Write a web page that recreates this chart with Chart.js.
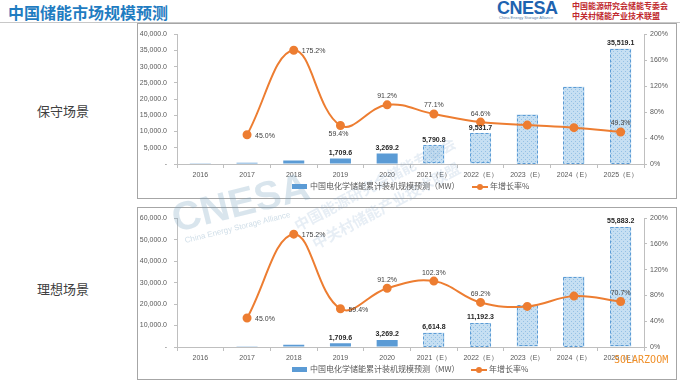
<!DOCTYPE html>
<html>
<head>
<meta charset="utf-8">
<script src="https://cdn.jsdelivr.net/npm/chart.js@4.4.0/dist/chart.umd.min.js"></script>
<style>
  body { margin: 0; width: 680px; height: 382px; background: #fff; position: relative; overflow: hidden;
         font-family: "Noto Sans CJK SC", "Noto Sans", sans-serif; }
  .abs { position: absolute; white-space: nowrap; }
  .box { position: absolute; border: 1px solid #a6a6a6; box-sizing: border-box; }
  canvas { position: absolute; }
  .scene { font-size: 13px; color: #404040; }
  .lg { font-size: 8px; color: #595959; line-height: 10px; }
  .lgbar { position: absolute; width: 15px; height: 5px; background: #5b9bd5; }
  .lgline { position: absolute; width: 16px; height: 2px; background: #ed7d31; }
  .lgdot { position: absolute; width: 6px; height: 6px; border-radius: 50%; background: #ed7d31; }
  .wm { position: absolute; white-space: nowrap; pointer-events: none; transform-origin: left bottom; }
</style>
</head>
<body>

<div class="abs" style="left:8px;top:0px;font-size:16px;font-weight:bold;color:#1f7cc1;">中国储能市场规模预测</div>
<div class="abs" style="left:0;top:22px;width:680px;height:1px;background:#c8c8c8;"></div>

<div class="abs" style="left:497px;top:-2px;font-family:'Liberation Sans';font-size:18px;font-weight:bold;color:#1e63b0;letter-spacing:-0.5px;">CNESA</div>
<div class="abs" style="left:499px;top:15px;font-family:'Liberation Sans';font-size:4px;color:#5b7fa8;">China Energy Storage Alliance</div>
<div class="abs" style="left:572px;top:0px;font-size:8px;font-weight:bold;color:#c0282d;">中国能源研究会储能专委会</div>
<div class="abs" style="left:572px;top:10px;font-size:8px;font-weight:bold;color:#c0282d;">中关村储能产业技术联盟</div>

<div class="abs scene" style="left:37px;top:101px;">保守场景</div>
<div class="abs scene" style="left:37px;top:279px;">理想场景</div>

<div class="box" style="left:137px;top:23px;width:540px;height:176px;"></div>
<canvas id="c1" width="540" height="176" style="left:137px;top:23px;"></canvas>

<div class="box" style="left:137px;top:207px;width:540px;height:173px;"></div>
<canvas id="c2" width="540" height="173" style="left:137px;top:207px;"></canvas>

<!-- faint CNESA watermark -->
<div class="wm" style="left:178px;top:196px;font-family:'Liberation Sans';font-size:40px;font-weight:bold;color:rgba(120,160,190,0.28);transform:rotate(-14deg);">CNESA</div>
<div class="wm" style="left:186px;top:236px;font-family:'Liberation Sans';font-size:8px;color:rgba(120,160,190,0.35);transform:rotate(-14deg);">China Energy Storage Alliance</div>
<div class="wm" style="left:300px;top:214px;font-size:15px;font-weight:bold;color:rgba(120,160,200,0.18);transform:rotate(-28deg);">中国能源研究会储能专委会</div>
<div class="wm" style="left:318px;top:232px;font-size:15px;font-weight:bold;color:rgba(120,160,200,0.18);transform:rotate(-28deg);">中关村储能产业技术联盟</div>

<!-- legends -->
<div class="lgbar" style="left:292px;top:184px;"></div>
<div class="abs lg" style="left:310px;top:181px;">中国电化学储能累计装机规模预测（MW）</div>
<div class="lgline" style="left:472px;top:186px;"></div>
<div class="lgdot" style="left:477px;top:184px;"></div>
<div class="abs lg" style="left:490px;top:181px;">年增长率%</div>

<div class="lgbar" style="left:292px;top:367px;"></div>
<div class="abs lg" style="left:310px;top:364px;">中国电化学储能累计装机规模预测（MW）</div>
<div class="lgline" style="left:471px;top:369px;"></div>
<div class="lgdot" style="left:476px;top:367px;"></div>
<div class="abs lg" style="left:489px;top:364px;">年增长率%</div>

<div class="abs" style="left:614px;top:354px;font-family:'DejaVu Sans Mono';font-size:10px;color:#f0902a;">SOLARZOOM</div>

<script>
// data
const years = ["2016", "2017", "2018", "2019", "2020", "2021（E）", "2022（E）", "2023（E）", "2024（E）", "2025（E）"];

const consCapacity = [268.8, 389.8, 1072.7, 1709.6, 3269.2, 5790.8, 9531.7, 15250, 23800, 35519.1];
const consGrowth   = [null, 45.0, 175.2, 59.4, 91.2, 77.1, 64.6, 60.0, 56.0, 49.3];

const idealCapacity = [268.8, 389.8, 1072.7, 1709.6, 3269.2, 6614.8, 11192.3, 19500, 32700, 55883.2];
const idealGrowth   = [null, 45.0, 175.2, 59.4, 91.2, 102.3, 69.2, 63.0, 79.0, 70.7];

// which values carry a label, and where the % labels sit
const barLabelIdx = [3, 4, 5, 6, 9];
const consPctPos  = [null, "right", "right", "below", "above", "above", "above", null, null, "above"];
const idealPctPos = [null, "right", "right", "right", "above", "above", "above", null, null, "above"];

const firstForecast = 5;
const BLUE = "#5b9bd5", ORANGE = "#ed7d31", AXIS = "#bfbfbf", TXT = "#595959";
const numFont = { family: "Liberation Sans", size: 7 };

const fmt = (v) => v === 0 ? "-" : v.toLocaleString("en-US", { minimumFractionDigits: 1, maximumFractionDigits: 1 });

const makeHatch = () => {
  const c = document.createElement("canvas");
  c.width = 4; c.height = 4;
  const g = c.getContext("2d");
  g.fillStyle = "#c6dff2"; g.fillRect(0, 0, 4, 4);
  g.fillStyle = "#95c1e5"; g.fillRect(0, 0, 1, 1); g.fillRect(2, 2, 1, 1);
  return g.createPattern(c, "repeat");
};
const hatch = makeHatch();

// dashed outline on forecast bars
const dashedBars = {
  id: "dashedBars",
  afterDatasetDraw(chart, args) {
    if (args.meta.type !== "bar") return;
    const ctx = chart.ctx;
    ctx.save();
    ctx.setLineDash([3, 2]);
    ctx.strokeStyle = "#5b9bd5";
    ctx.lineWidth = 1;
    args.meta.data.forEach((bar, i) => {
      if (i < firstForecast) return;
      const p = bar.getProps(["x", "y", "base", "width"], true);
      ctx.strokeRect(Math.round(p.x - p.width / 2) + 0.5, Math.round(p.y) + 0.5, Math.round(p.width) - 1, Math.round(p.base - p.y) - 1);
    });
    ctx.restore();
  }
};

// value labels
const valueLabels = {
  id: "valueLabels",
  afterDatasetsDraw(chart) {
    const ctx = chart.ctx;
    const o = chart.options.plugins.valueLabels;
    const bars = chart.getDatasetMeta(0).data;
    const pts = chart.getDatasetMeta(1).data;
    ctx.save();
    ctx.font = "bold 7px 'Liberation Sans'";
    ctx.fillStyle = "#262626";
    ctx.textAlign = "center";
    ctx.textBaseline = "bottom";
    o.barIdx.forEach(i => {
      const b = bars[i];
      ctx.fillText(fmt(chart.data.datasets[0].data[i]), b.x, b.y - 2);
    });
    ctx.font = "7px 'Liberation Sans'";
    ctx.fillStyle = "#404040";
    o.pctPos.forEach((pos, i) => {
      if (!pos) return;
      const p = pts[i];
      const t = chart.data.datasets[1].data[i].toFixed(1) + "%";
      if (pos === "right") { ctx.textAlign = "left"; ctx.textBaseline = "middle"; ctx.fillText(t, p.x + 8, p.y + 1); }
      if (pos === "above") { ctx.textAlign = "center"; ctx.textBaseline = "bottom"; ctx.fillText(t, p.x, p.y - 5); }
      if (pos === "below") { ctx.textAlign = "center"; ctx.textBaseline = "top"; ctx.fillText(t, p.x - 2, p.y + 5); }
    });
    ctx.restore();
  }
};

const makeChart = (id, capacity, growth, capMax, capStep, pctPos, pad) => new Chart(document.getElementById(id), {
  data: {
    labels: years,
    datasets: [
      {
        type: "bar", order: 1, yAxisID: "y",
        data: capacity,
        backgroundColor: (c) => c.dataIndex >= firstForecast ? hatch : BLUE,
        barPercentage: 0.45, categoryPercentage: 1
      },
      {
        type: "line", order: 0, yAxisID: "y1",
        data: growth,
        borderColor: ORANGE, borderWidth: 2, tension: 0.4,
        pointRadius: 3.5, pointBackgroundColor: ORANGE, pointBorderColor: ORANGE
      }
    ]
  },
  options: {
    responsive: false, animation: false,
    layout: { padding: { top: pad.top, bottom: pad.bottom, left: 0, right: 0 } },
    plugins: {
      legend: { display: false }, tooltip: { enabled: false },
      valueLabels: { barIdx: barLabelIdx, pctPos: pctPos }
    },
    scales: {
      x: {
        grid: { drawOnChartArea: false, tickLength: 4, color: AXIS, offset: true },
        border: { color: AXIS },
        ticks: { font: numFont, color: TXT, padding: 3, maxRotation: 0, autoSkip: false },
        afterFit: (s) => { s.height = 20; }
      },
      y: {
        position: "left", min: 0, max: capMax,
        grid: { drawOnChartArea: false, tickLength: 3, color: AXIS },
        border: { color: AXIS },
        ticks: { stepSize: capStep, font: numFont, color: TXT, padding: 7, callback: (v) => fmt(v) },
        afterFit: (s) => { s.width = 40; }
      },
      y1: {
        position: "right", min: 0, max: 200,
        grid: { drawOnChartArea: false, tickLength: 3, color: AXIS },
        border: { color: AXIS },
        ticks: { stepSize: 40, font: numFont, color: TXT, padding: 3, callback: (v) => v + "%" },
        afterFit: (s) => { s.width = 33; }
      }
    }
  },
  plugins: [dashedBars, valueLabels]
});

makeChart("c1", consCapacity, consGrowth, 40000, 5000, consPctPos, { top: 10, bottom: 15 });
makeChart("c2", idealCapacity, idealGrowth, 60000, 10000, idealPctPos, { top: 8, bottom: 13 });
</script>
</body>
</html>
